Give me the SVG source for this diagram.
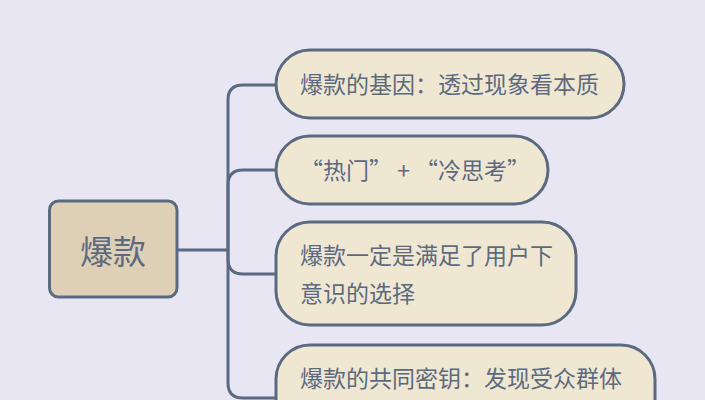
<svg xmlns="http://www.w3.org/2000/svg" width="705" height="400" viewBox="0 0 705 400">
<style>
.link{fill:none;stroke:#5B6A80;stroke-width:3}
.node{fill:#F0E7D3;stroke:#5B6A80;stroke-width:3}
.root{fill:#DDD0B6;stroke:#5B6A80;stroke-width:3}
text{font-family:"Noto Sans CJK SC","Noto Sans",sans-serif;fill:#5D6A7E}
.t{font-size:23px}
</style>
<rect width="705" height="400" fill="#E9E6F4"/>
<g id="connectors">
<path class="link" d="M177,250 H228"/>
<path class="link" d="M228,250 V100 Q228,85 243,85 H276"/>
<path class="link" d="M228,250 V185 Q228,170 243,170 H276"/>
<path class="link" d="M228,250 V259 Q228,274 243,274 H276"/>
<path class="link" d="M228,250 V383 Q228,398 243,398 H276"/>
</g>
<g id="root">
<rect class="root" x="49.5" y="201" width="127.5" height="96" rx="9"/>
<text x="113" y="264" font-size="33" text-anchor="middle">爆款</text>
</g>
<g id="n1">
<rect class="node" x="276" y="50" width="348" height="68" rx="34"/>
<text class="t" x="300" y="93">爆款的基因：透过现象看本质</text>
</g>
<g id="n2">
<rect class="node" x="276" y="136" width="272" height="68" rx="34"/>
<text class="t" x="300" y="179">“热门” + “冷思考”</text>
</g>
<g id="n3">
<rect class="node" x="276" y="222" width="300" height="103" rx="34"/>
<text class="t" x="300" y="264">爆款一定是满足了用户下</text>
<text class="t" x="300" y="302">意识的选择</text>
</g>
<g id="n4">
<rect class="node" x="276" y="345" width="379" height="106" rx="34"/>
<text class="t" x="300" y="387">爆款的共同密钥：发现受众群体</text>
</g>
</svg>
